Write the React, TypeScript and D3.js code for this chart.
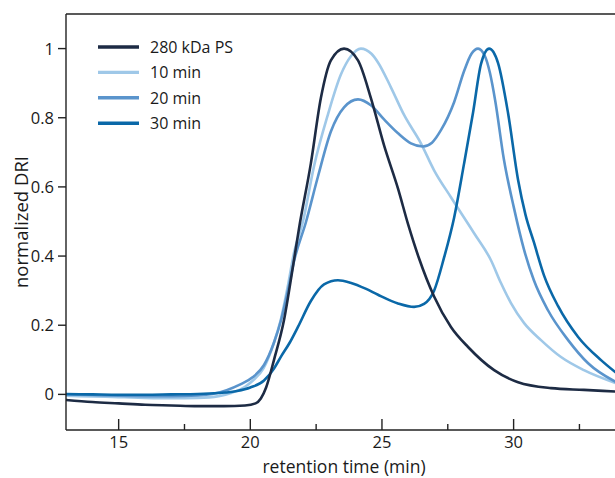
import React from "react";
import * as d3 from "d3";

type Pt = [number, number];

const seriesNames = ["280 kDa PS", "10 min", "20 min", "30 min"];
const seriesColors = ["#1d2b44", "#9fc8e8", "#5a94cc", "#0a68a8"];

const ps280: Pt[] = [
  [13.0, -0.016], [14.0, -0.022], [15.0, -0.026], [16.0, -0.03], [17.0, -0.032],
  [18.0, -0.034], [19.0, -0.034], [19.8, -0.032], [20.2, -0.026], [20.4, -0.012],
  [20.6, 0.02], [20.9, 0.1], [21.28, 0.215], [21.62, 0.37], [21.85, 0.48],
  [22.3, 0.668], [22.68, 0.857], [23.06, 0.966], [23.56, 1.0], [24.09, 0.966],
  [24.58, 0.857], [25.08, 0.72], [25.61, 0.595], [26.0, 0.49], [26.4, 0.395],
  [26.98, 0.283], [27.62, 0.195], [28.27, 0.137], [29.26, 0.07], [30.17, 0.035],
  [31.42, 0.018], [32.67, 0.013], [33.9, 0.008],
];

const min10: Pt[] = [
  [13.0, -0.004], [14.0, -0.006], [15.0, -0.008], [16.0, -0.01], [17.0, -0.011],
  [18.0, -0.01], [18.8, -0.005], [19.3, 0.005], [19.8, 0.022], [20.1, 0.04],
  [20.5, 0.075], [20.9, 0.15], [21.17, 0.22], [21.43, 0.315], [21.66, 0.41],
  [22.0, 0.5], [22.42, 0.66], [22.95, 0.81], [23.44, 0.925], [23.82, 0.978],
  [24.2, 1.0], [24.6, 0.985], [24.85, 0.96], [25.34, 0.888], [25.84, 0.808],
  [26.48, 0.726], [26.98, 0.648], [27.62, 0.57], [28.5, 0.466], [29.14, 0.388],
  [29.52, 0.322], [29.9, 0.264], [30.4, 0.206], [31.04, 0.157], [31.8, 0.108],
  [32.67, 0.07], [33.9, 0.032],
];

const min20: Pt[] = [
  [13.0, 0.0], [14.0, -0.002], [15.0, -0.004], [16.0, -0.005], [17.0, -0.005],
  [18.0, -0.003], [18.6, 0.002], [19.1, 0.012], [19.6, 0.028], [20.1, 0.05],
  [20.52, 0.085], [20.9, 0.15], [21.17, 0.215], [21.43, 0.3], [21.66, 0.385],
  [22.12, 0.5], [22.57, 0.63], [23.06, 0.76], [23.56, 0.83], [24.09, 0.853],
  [24.58, 0.836], [25.08, 0.795], [25.61, 0.755], [26.1, 0.726], [26.56, 0.717],
  [26.9, 0.728], [27.24, 0.764], [27.74, 0.845], [28.12, 0.935], [28.4, 0.985],
  [28.65, 1.0], [28.9, 0.98], [29.1, 0.93], [29.3, 0.85], [29.63, 0.68],
  [30.01, 0.54], [30.39, 0.42], [30.77, 0.33], [31.3, 0.244], [32.07, 0.157],
  [32.83, 0.09], [33.9, 0.035],
];

const min30: Pt[] = [
  [13.0, 0.001], [14.0, 0.0], [15.0, -0.001], [16.0, -0.001], [17.0, 0.0],
  [18.0, 0.001], [18.8, 0.004], [19.5, 0.01], [20.0, 0.02], [20.52, 0.04],
  [20.9, 0.075], [21.17, 0.11], [21.5, 0.15], [21.81, 0.195], [22.3, 0.27],
  [22.8, 0.318], [23.33, 0.33], [23.8, 0.323], [24.4, 0.305], [24.85, 0.288],
  [25.61, 0.263], [26.22, 0.253], [26.6, 0.262], [26.98, 0.3], [27.36, 0.396],
  [27.74, 0.511], [28.12, 0.668], [28.46, 0.815], [28.76, 0.955], [29.07, 1.0],
  [29.41, 0.958], [29.79, 0.813], [30.17, 0.62], [30.45, 0.52], [30.77, 0.44],
  [31.15, 0.345], [31.69, 0.255], [32.45, 0.166], [33.32, 0.099], [33.9, 0.062],
];

const allSeries = [ps280, min10, min20, min30];

const xMajorTicks = [15, 20, 25, 30];
const xMinorTicks = [17.5, 22.5, 27.5, 32.5];
const yTicks = [0, 0.2, 0.4, 0.6, 0.8, 1];
const yTickLabels = ["0", "0.2", "0.4", "0.6", "0.8", "1"];

const W = 615;
const H = 478;
const left = 66;
const top = 14;
const bottom = 430;
const right = 615;

const FONT = "'Open Sans', 'DejaVu Sans', sans-serif";

export default function App() {
  const x = d3.scaleLinear().domain([13, 35]).range([left, left + 22 * 26.33]);
  const y = d3.scaleLinear().domain([-0.103, 1.1]).range([bottom, top]);
  const line = d3
    .line<Pt>()
    .x((d) => x(d[0]))
    .y((d) => y(d[1]))
    .curve(d3.curveMonotoneX);

  const drawOrder = [1, 2, 3, 0];

  return (
    <svg
      width={W}
      height={H}
      style={{ position: "absolute", left: 0, top: 0, background: "#fff" }}
      fontFamily={FONT}
    >
      <defs>
        <clipPath id="plotclip">
          <rect x={left} y={top} width={right - left} height={bottom - top} />
        </clipPath>
      </defs>
      <rect x={0} y={0} width={W} height={H} fill="#fff" />

      <g clipPath="url(#plotclip)">
        {drawOrder.map((i) => (
          <path
            key={i}
            d={line(allSeries[i]) || ""}
            fill="none"
            stroke={seriesColors[i]}
            strokeWidth={2.6}
            strokeLinejoin="round"
            strokeLinecap="round"
          />
        ))}
      </g>

      {/* frame */}
      <line x1={left} x2={right} y1={top} y2={top} stroke="#222" strokeWidth={1.4} />
      <line x1={left} x2={left} y1={top} y2={bottom} stroke="#222" strokeWidth={1.4} />
      <line x1={left} x2={right} y1={bottom} y2={bottom} stroke="#222" strokeWidth={1.4} />

      {/* x ticks */}
      {xMajorTicks.map((t) => (
        <g key={"xm" + t}>
          <line x1={x(t)} x2={x(t)} y1={bottom} y2={bottom - 11} stroke="#222" strokeWidth={1.4} />
          <text x={x(t)} y={448} textAnchor="middle" fontSize={16.5} fill="#1a1a1a">
            {t}
          </text>
        </g>
      ))}
      {xMinorTicks.map((t) => (
        <line key={"xn" + t} x1={x(t)} x2={x(t)} y1={bottom} y2={bottom - 6} stroke="#222" strokeWidth={1.4} />
      ))}

      {/* y ticks */}
      {yTicks.map((v, i) => (
        <g key={"y" + v}>
          <line x1={left - 8} x2={left} y1={y(v)} y2={y(v)} stroke="#222" strokeWidth={1.4} />
          <text x={left - 12} y={y(v)} dy="0.36em" textAnchor="end" fontSize={16.5} fill="#1a1a1a">
            {yTickLabels[i]}
          </text>
        </g>
      ))}

      {/* axis titles */}
      <text x={344} y={472.5} textAnchor="middle" fontSize={17.5} fill="#1a1a1a">
        retention time (min)
      </text>
      <text
        transform={`translate(28, ${(top + bottom) / 2}) rotate(-90)`}
        textAnchor="middle"
        fontSize={18.5}
        fill="#1a1a1a"
      >
        normalized DRI
      </text>

      {/* legend */}
      {seriesNames.map((name, i) => {
        const ly = 47 + i * 25.4;
        return (
          <g key={name}>
            <line x1={98} x2={139} y1={ly} y2={ly} stroke={seriesColors[i]} strokeWidth={3.4} />
            <text x={150} y={ly} dy="0.36em" fontSize={16} fill="#1a1a1a">
              {name}
            </text>
          </g>
        );
      })}
    </svg>
  );
}
